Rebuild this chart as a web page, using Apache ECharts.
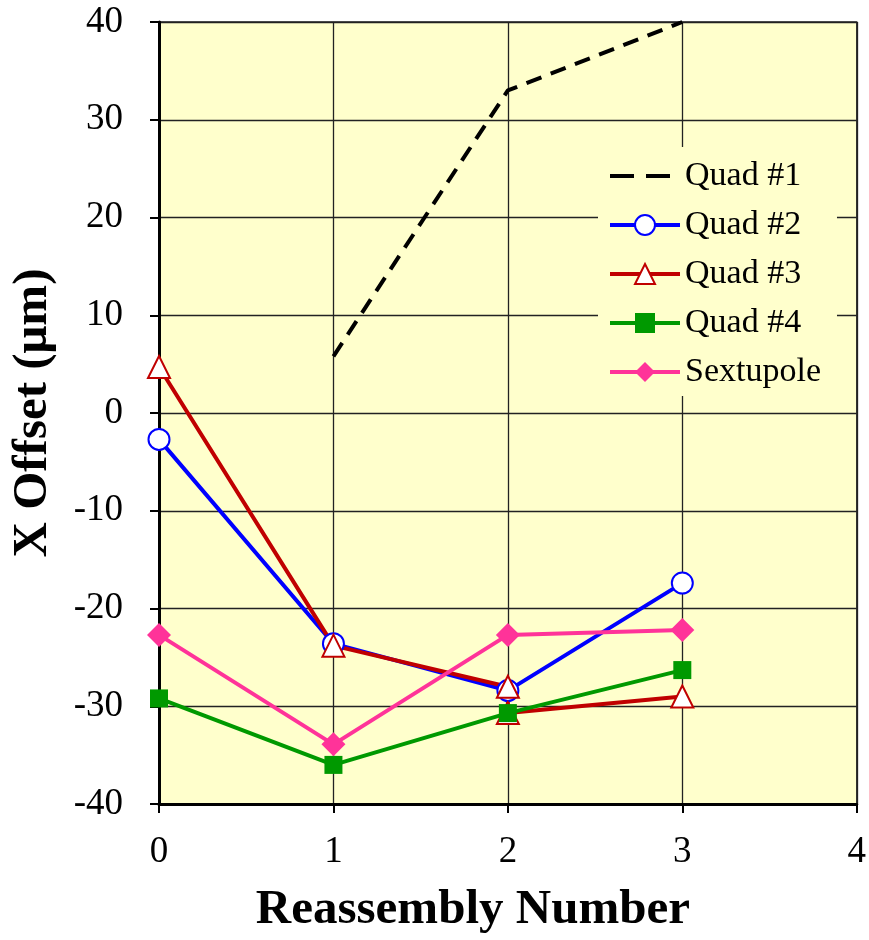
<!DOCTYPE html>
<html>
<head>
<meta charset="utf-8">
<script src="https://cdn.jsdelivr.net/npm/echarts@6/dist/echarts.min.js"></script>
<style>
  html, body { margin: 0; padding: 0; background: #fff; }
  #main { width: 869px; height: 940px; }
</style>
</head>
<body>
<div id="main"></div>
<script>
// reassembly number for each point
var reassembly = [0, 1, 2, 3];
var quad1 = [null, 5.8, 33.0, 40.0];
var quad2 = [-2.7, -23.6, -28.4, -17.4];
// Quad #3 has two readings at reassembly 2
var quad3X = [0, 1, 2, 2, 3];
var quad3 = [4.7, -23.8, -28.0, -30.7, -29.0];
var quad4 = [-29.2, -36.0, -30.7, -26.3];
var sextupole = [-22.7, -33.9, -22.7, -22.2];
var yTicks = [-40, -30, -20, -10, 0, 10, 20, 30, 40];
var xTicks = [0, 1, 2, 3, 4];

function pairs(xs, ys) {
  var out = [];
  for (var i = 0; i < ys.length; i++) {
    if (ys[i] !== null) out.push([xs[i], ys[i]]);
  }
  return out;
}

var serif = "'Liberation Serif', 'DejaVu Serif', serif";
var chart = echarts.init(document.getElementById('main'));

chart.setOption({
  animation: false,
  grid: {
    left: 159, top: 22, right: 9, bottom: 134,
    show: true,
    backgroundColor: '#FFFFCC',
    borderColor: '#222',
    borderWidth: 1.3
  },
  legend: {
    orient: 'vertical',
    left: 598,
    top: 147,
    itemWidth: 70,
    itemHeight: 25,
    itemGap: 15,
    padding: [12, 16, 7, 10],
    backgroundColor: '#FFFFCC',
    lineStyle: { width: 4 },
    textStyle: { fontFamily: serif, fontSize: 34, color: '#000' },
    data: [
      { name: 'Quad #1', itemStyle: { opacity: 0 }, lineStyle: { width: 4, type: [24, 12] } },
      'Quad #2', 'Quad #3', 'Quad #4', 'Sextupole'
    ]
  },
  xAxis: {
    type: 'value',
    min: xTicks[0],
    max: xTicks[xTicks.length - 1],
    interval: 1,
    name: 'Reassembly Number',
    nameLocation: 'middle',
    nameGap: 82,
    nameTextStyle: {
      fontFamily: serif, fontSize: 49, fontWeight: 'bold', color: '#000',
      padding: [0, 70, 0, 0]
    },
    axisLine: { onZero: false, lineStyle: { color: '#000', width: 3 } },
    axisTick: { show: true, length: 9, lineStyle: { color: '#000', width: 2 } },
    axisLabel: { fontFamily: serif, fontSize: 37, color: '#000', margin: 30 },
    splitLine: { show: true, lineStyle: { color: '#222', width: 1.3 } }
  },
  yAxis: {
    type: 'value',
    min: yTicks[0],
    max: yTicks[yTicks.length - 1],
    interval: 10,
    name: 'X Offset (\u03bcm)',
    nameLocation: 'middle',
    nameGap: 101,
    nameRotate: 90,
    nameTextStyle: { fontFamily: serif, fontSize: 49, fontWeight: 'bold', color: '#000' },
    axisLine: { onZero: false, lineStyle: { color: '#000', width: 3 } },
    axisTick: { show: true, length: 9, lineStyle: { color: '#000', width: 2 } },
    axisLabel: { fontFamily: serif, fontSize: 37, color: '#000', margin: 36 },
    splitLine: { show: true, lineStyle: { color: '#222', width: 1.3 } }
  },
  series: [
    {
      name: 'Quad #1',
      type: 'line',
      data: pairs(reassembly, quad1),
      color: '#000',
      symbol: 'none',
      lineStyle: { color: '#000', width: 4, type: [16, 10] }
    },
    {
      name: 'Quad #2',
      type: 'line',
      data: pairs(reassembly, quad2),
      color: '#0000FF',
      symbol: 'emptyCircle',
      symbolSize: 21,
      lineStyle: { width: 4 },
      itemStyle: { borderWidth: 3 }
    },
    {
      name: 'Quad #3',
      type: 'line',
      data: pairs(quad3X, quad3),
      color: '#C00000',
      symbol: 'emptyTriangle',
      symbolSize: 22,
      lineStyle: { width: 4 },
      itemStyle: { borderWidth: 3 }
    },
    {
      name: 'Quad #4',
      type: 'line',
      data: pairs(reassembly, quad4),
      color: '#009900',
      symbol: 'rect',
      symbolSize: 18,
      lineStyle: { width: 4 }
    },
    {
      name: 'Sextupole',
      type: 'line',
      data: pairs(reassembly, sextupole),
      color: '#FF3399',
      symbol: 'diamond',
      symbolSize: 24,
      lineStyle: { width: 4 }
    }
  ]
});
</script>
</body>
</html>
